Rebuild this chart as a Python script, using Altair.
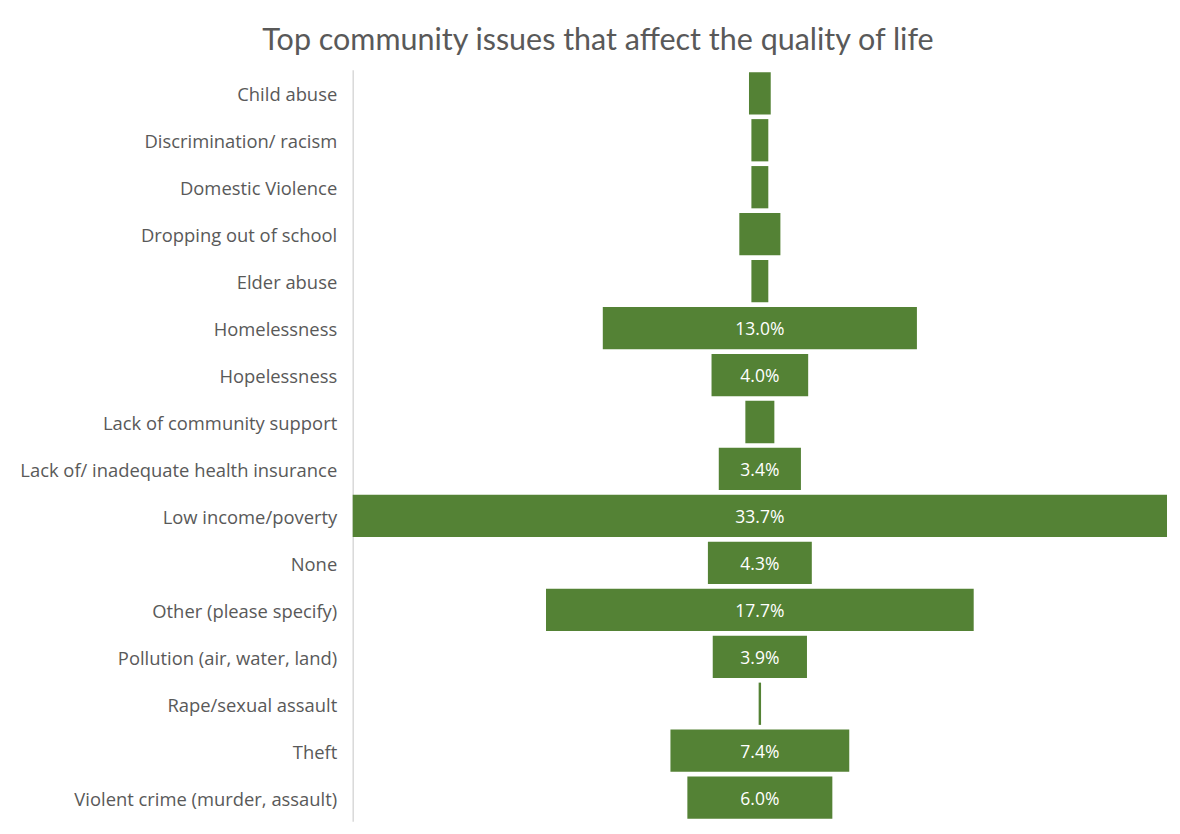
import altair as alt
import pandas as pd

categories = [
    "Child abuse", "Discrimination/ racism", "Domestic Violence",
    "Dropping out of school", "Elder abuse", "Homelessness", "Hopelessness",
    "Lack of community support", "Lack of/ inadequate health insurance",
    "Low income/poverty", "None", "Other (please specify)",
    "Pollution (air, water, land)", "Rape/sexual assault", "Theft",
    "Violent crime (murder, assault)",
]
values = [0.9, 0.7, 0.7, 1.7, 0.7, 13.0, 4.0, 1.2, 3.4, 33.7, 4.3, 17.7, 3.9, 0.1, 7.4, 6.0]
show_label = [False, False, False, False, False, True, True, False, True, True, True, True, True, False, True, True]

df = pd.DataFrame({"issue": categories, "pct": values, "show": show_label})

half = 33.7 / 2
base = alt.Chart(df).transform_calculate(
    lo="-datum.pct/2", hi="datum.pct/2", zero="0",
    lab="format(datum.pct, '.1f') + '%'",
)

y_enc = alt.Y(
    "issue:N", sort=categories, title=None,
    scale=alt.Scale(paddingInner=0.1, paddingOuter=0.05),
    axis=alt.Axis(ticks=False, domain=True, domainColor="#d9d9d9", domainWidth=1.5,
                  labelColor="#595959", labelFont="Open Sans", labelFontSize=18.4,
                  labelPadding=16, labelLimit=400, labelOffset=2),
)

bars = base.mark_bar(color="#548235").encode(
    y=y_enc,
    x=alt.X("lo:Q", scale=alt.Scale(domain=[-half, half], nice=False), axis=None),
    x2="hi:Q",
)

text = base.transform_filter("datum.show").mark_text(
    color="white", font="Open Sans", fontSize=17.5, align="center", baseline="middle", dy=2
).encode(
    y=alt.Y("issue:N", sort=categories),
    x=alt.X("zero:Q"),
    text="lab:N",
)

chart = alt.layer(bars, text).properties(
    width=815, height=752,
    title=alt.TitleParams("Top community issues that affect the quality of life",
                          font="Lato", fontSize=30.5, fontWeight="normal", color="#595959",
                          dx=-162, offset=13),
    autosize=alt.AutoSizeParams(type="none"),
    padding={"left": 345, "top": 61.5, "right": 5, "bottom": 5},
).configure_view(strokeWidth=0)

chart.save("out.html", embed_options={"renderer": "svg", "actions": False})
